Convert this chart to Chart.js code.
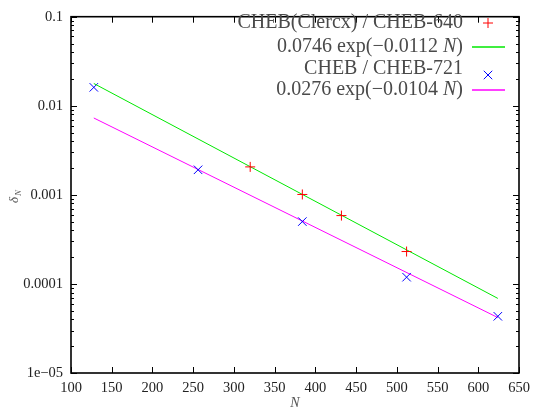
<!DOCTYPE html>
<html>
<head>
<meta charset="utf-8">
<script src="https://cdn.jsdelivr.net/npm/chart.js@4"></script>
<style>
  html, body { margin: 0; padding: 0; background: #fff; }
  #wrap { width: 536px; height: 414px; position: relative; }
</style>
</head>
<body>
<div id="wrap"><canvas id="c" width="536" height="414"></canvas></div>
<script>
// Convergence of the error delta_N with resolution N
const N_CLERCX = [320, 384, 432, 512];
const DELTA_CLERCX = [0.00206, 0.00101, 0.000585, 0.000231];

const N_CHEB = [128, 256, 384, 512, 624];
const DELTA_CHEB = [0.0161, 0.00191, 0.000501, 0.000119, 0.0000433];

// Exponential fits, evaluated at the ends of the fitted range
const FIT_N = [128, 624];
const FIT_CLERCX = [0.017789, 0.00006879];   // 0.0746 exp(-0.0112 N)
const FIT_CHEB = [0.0072908, 0.000041929];   // 0.0276 exp(-0.0104 N)

const SERIES_LABELS = [
  'CHEB(Clercx) / CHEB-640',
  '0.0746 exp(\u22120.0112 N)',
  'CHEB / CHEB-721',
  '0.0276 exp(\u22120.0104 N)'
];

const X_TICKS = [100, 150, 200, 250, 300, 350, 400, 450, 500, 550, 600, 650];
const Y_TICKS = [0.1, 0.01, 0.001, 0.0001, 0.00001];
const Y_TICK_LABELS = ['0.1', '0.01', '0.001', '0.0001', '1e\u221205'];

const SERIF = '"Liberation Serif", "Times New Roman", serif';

function pts(xs, ys) { return xs.map((x, i) => ({ x: x, y: ys[i] })); }

// Inward tick marks, minor log ticks and the plot frame
const framePlugin = {
  id: 'frame',
  afterDraw(chart) {
    const { ctx, chartArea: a, scales: { x, y } } = chart;
    ctx.save();
    ctx.strokeStyle = '#000';
    ctx.lineWidth = 1;
    ctx.beginPath();
    X_TICKS.forEach(v => {
      const px = Math.round(x.getPixelForValue(v)) + 0.5;
      ctx.moveTo(px, a.bottom); ctx.lineTo(px, a.bottom - 6);
      ctx.moveTo(px, a.top); ctx.lineTo(px, a.top + 6);
    });
    for (let e = -5; e <= -1; e++) {
      for (let m = 1; m <= 9; m++) {
        const v = m * Math.pow(10, e);
        if (v > 0.1 + 1e-12) break;
        const py = Math.round(y.getPixelForValue(v)) + 0.5;
        const len = m === 1 ? 6 : 3;
        ctx.moveTo(a.left, py); ctx.lineTo(a.left + len, py);
        ctx.moveTo(a.right, py); ctx.lineTo(a.right - len, py);
      }
    }
    ctx.stroke();
    ctx.lineWidth = 1.6;
    ctx.strokeRect(a.left, a.top, a.right - a.left, a.bottom - a.top);
    ctx.restore();
  }
};

// Draw a run of text pieces (some italic) ending at xRight
function drawRich(ctx, parts, xRight, yMid, size, color) {
  const fonts = parts.map(p => (p.i ? 'italic ' : '') + size + 'px ' + SERIF);
  let w = 0;
  parts.forEach((p, k) => { ctx.font = fonts[k]; w += ctx.measureText(p.t).width; });
  let xx = xRight - w;
  ctx.fillStyle = color;
  ctx.textBaseline = 'middle';
  ctx.textAlign = 'left';
  parts.forEach((p, k) => { ctx.font = fonts[k]; ctx.fillText(p.t, xx, yMid); xx += ctx.measureText(p.t).width; });
}

function richLabel(s) {
  const j = s.lastIndexOf('N)');
  if (j < 0) return [{ t: s }];
  return [{ t: s.slice(0, j) }, { t: 'N', i: true }, { t: ')' }];
}

// Key in the upper right: text right-aligned, sample to its right
const keyPlugin = {
  id: 'key',
  afterDraw(chart) {
    const { ctx } = chart;
    const rows = [23, 46.5, 68.5, 90];
    const markY = [23, 47, 75, 90];
    ctx.save();
    chart.data.datasets.forEach((ds, i) => {
      drawRich(ctx, richLabel(ds.label), 463, rows[i], 20, '#4a4a4a');
      ctx.strokeStyle = ds.borderColor;
      if (ds.showLine) {
        ctx.lineWidth = 1.5;
        ctx.beginPath();
        ctx.moveTo(472, markY[i]);
        ctx.lineTo(505, markY[i]);
        ctx.stroke();
      } else {
        ctx.lineWidth = 1;
        Chart.helpers.drawPoint(ctx, { pointStyle: ds.pointStyle, radius: ds.pointRadius, borderWidth: 1 }, 488, markY[i]);
      }
    });
    // axis titles
    ctx.fillStyle = '#555';
    ctx.textBaseline = 'middle';
    ctx.textAlign = 'center';
    ctx.font = 'italic 14px ' + SERIF;
    ctx.fillText('N', 295, 403);
    ctx.translate(16, 196);
    ctx.rotate(-Math.PI / 2);
    ctx.font = 'italic 13px ' + SERIF;
    ctx.textAlign = 'left';
    ctx.fillText('\u03b4', -7, -1);
    ctx.font = 'italic 9px ' + SERIF;
    ctx.fillText('N', 0, 3);
    ctx.restore();
  }
};

new Chart(document.getElementById('c'), {
  type: 'scatter',
  data: {
    datasets: [
      { label: SERIES_LABELS[0], data: pts(N_CLERCX, DELTA_CLERCX), showLine: false,
        pointStyle: 'cross', pointRadius: 5, borderColor: '#ff0000', borderWidth: 1, backgroundColor: '#ff0000' },
      { label: SERIES_LABELS[1], data: pts(FIT_N, FIT_CLERCX), showLine: true,
        pointRadius: 0, borderColor: '#00e800', borderWidth: 1, backgroundColor: '#00e800' },
      { label: SERIES_LABELS[2], data: pts(N_CHEB, DELTA_CHEB), showLine: false,
        pointStyle: 'crossRot', pointRadius: 6, borderColor: '#0000ff', borderWidth: 1, backgroundColor: '#0000ff' },
      { label: SERIES_LABELS[3], data: pts(FIT_N, FIT_CHEB), showLine: true,
        pointRadius: 0, borderColor: '#ff00ff', borderWidth: 1, backgroundColor: '#ff00ff' }
    ]
  },
  options: {
    responsive: false,
    animation: false,
    devicePixelRatio: 1,
    layout: { padding: { left: 0, top: 13, right: 17, bottom: 0 } },
    plugins: { legend: { display: false }, tooltip: { enabled: false } },
    scales: {
      x: {
        type: 'linear', min: 100, max: 650,
        afterBuildTicks: s => { s.ticks = X_TICKS.map(v => ({ value: v })); },
        afterFit: s => { s.height = 41; },
        grid: { display: false, drawTicks: false },
        border: { display: false },
        ticks: { color: '#222', font: { family: SERIF, size: 14.5 }, padding: 6, maxRotation: 0,
                 callback: v => String(v) }
      },
      y: {
        type: 'logarithmic', min: 0.00001, max: 0.1,
        afterBuildTicks: s => { s.ticks = Y_TICKS.map(v => ({ value: v })); },
        afterFit: s => { s.width = 71; },
        grid: { display: false, drawTicks: false },
        border: { display: false },
        ticks: { color: '#222', font: { family: SERIF, size: 14.5 }, padding: 8,
                 callback: v => { const k = Y_TICKS.findIndex(t => Math.abs(t - v) / t < 1e-6); return k >= 0 ? Y_TICK_LABELS[k] : ''; } }
      }
    }
  },
  plugins: [framePlugin, keyPlugin]
});
</script>
</body>
</html>
